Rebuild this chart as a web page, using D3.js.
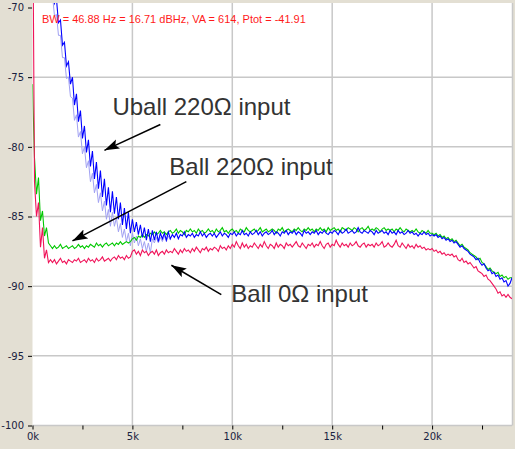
<!DOCTYPE html>
<html>
<head>
<meta charset="utf-8">
<script src="https://cdn.jsdelivr.net/npm/d3@7"></script>
<style>
  html, body { margin: 0; padding: 0; background: #e3dfd3; }
  svg { display: block; }
</style>
</head>
<body>
<svg width="515" height="449"></svg>
<script>
// spectrum samples, one every 0.1 kHz from 0 to 24 kHz (dB)
var freqStepKHz = 0.1;

var ball0 = [
  -60.0, -82.5, -85.0, -84.0, -87.2, -85.8, -88.0, -87.4, -88.3, -88.1,
  -88.3, -88.1, -88.4, -88.2, -88.0, -88.3, -88.2, -88.4, -88.1, -88.2,
  -88.3, -88.1, -88.2, -88.0, -88.3, -88.2, -88.1, -88.3, -88.0, -88.2,
  -88.1, -88.3, -88.0, -88.2, -88.1, -87.9, -88.2, -88.1, -88.0, -88.2,
  -88.0, -87.9, -88.1, -87.8, -88.0, -87.9, -88.1, -87.8, -88.0, -87.9,
  -87.5, -87.4, -87.7, -87.5, -87.8, -87.4, -87.6, -87.5, -87.8, -87.6,
  -87.5, -87.7, -87.4, -87.8, -87.6, -87.5, -87.7, -87.4, -87.6, -87.5,
  -87.6, -87.3, -87.5, -87.7, -87.4, -87.6, -87.3, -87.5, -87.4, -87.6,
  -87.3, -87.5, -87.2, -87.4, -87.6, -87.3, -87.4, -87.2, -87.5, -87.3,
  -87.4, -87.2, -87.3, -87.5, -87.1, -87.3, -87.2, -87.4, -87.1, -87.3,
  -87.0, -87.2, -86.8, -87.1, -87.3, -86.9, -87.2, -87.0, -87.3, -87.1,
  -87.2, -86.9, -87.1, -87.3, -87.0, -87.2, -86.8, -87.1, -87.3, -87.0,
  -87.1, -87.3, -86.9, -87.2, -87.0, -87.1, -87.3, -86.9, -87.1, -87.0,
  -87.2, -87.0, -86.8, -87.1, -87.2, -86.9, -87.1, -87.3, -87.0, -87.1,
  -86.9, -87.2, -87.0, -87.1, -86.8, -87.1, -87.3, -87.0, -86.9, -87.2,
  -87.0, -87.1, -86.7, -87.0, -87.2, -86.9, -87.1, -87.0, -87.2, -86.9,
  -87.1, -87.0, -86.8, -87.1, -87.2, -87.0, -86.9, -87.2, -87.0, -87.1,
  -87.0, -87.2, -86.9, -87.1, -87.0, -86.8, -87.2, -87.1, -86.9, -87.1,
  -87.2, -87.0, -86.7, -87.1, -87.2, -86.9, -87.1, -87.3, -87.0, -87.2,
  -87.1, -87.3, -87.0, -87.2, -87.1, -87.3, -87.2, -87.4, -87.3, -87.4,
  -87.3, -87.5, -87.4, -87.6, -87.5, -87.7, -87.6, -87.8, -87.7, -87.8,
  -87.7, -87.9, -87.8, -88.1, -88.2, -88.0, -88.3, -88.2, -88.4, -88.3,
  -88.5, -88.7, -88.6, -88.9, -89.0, -89.1, -89.3, -89.2, -89.5, -89.6,
  -89.8, -90.0, -90.2, -90.5, -90.4, -90.7, -90.6, -90.8, -90.6, -90.8,
  -90.9
];

var ball220 = [
  -75.5, -80.8, -83.4, -82.2, -85.3, -84.6, -86.4, -85.8, -86.9, -87.1,
  -87.3, -87.1, -87.3, -87.2, -87.0, -87.3, -87.2, -87.1, -87.3, -87.2,
  -87.1, -87.3, -87.2, -87.0, -87.2, -87.1, -87.3, -87.1, -87.2, -87.0,
  -87.1, -87.2, -86.9, -87.1, -87.0, -87.2, -87.0, -86.9, -87.1, -87.0,
  -86.9, -87.1, -86.9, -87.0, -86.8, -87.0, -86.9, -86.8, -86.9, -86.8,
  -86.6, -86.5, -86.7, -86.4, -86.5, -86.3, -86.5, -86.3, -86.4, -86.2,
  -86.3, -86.1, -86.3, -86.2, -86.0, -86.2, -86.1, -86.3, -86.1, -86.0,
  -86.2, -86.1, -85.9, -86.2, -86.0, -86.1, -86.3, -86.0, -86.1, -85.9,
  -86.1, -86.0, -86.2, -85.9, -86.1, -86.0, -86.2, -86.1, -85.9, -86.1,
  -86.0, -86.2, -85.9, -86.1, -86.0, -85.8, -86.1, -86.0, -86.2, -86.0,
  -85.9, -86.1, -86.0, -86.2, -85.9, -86.0, -86.1, -85.8, -86.0, -86.1,
  -86.0, -85.9, -86.1, -86.0, -85.8, -86.1, -86.0, -85.9, -86.1, -86.0,
  -85.9, -86.0, -86.2, -85.9, -86.0, -85.8, -86.1, -86.0, -85.9, -86.0,
  -86.1, -85.9, -86.0, -85.8, -86.0, -86.1, -85.9, -86.0, -85.8, -86.0,
  -85.9, -86.1, -85.9, -86.0, -85.8, -86.0, -85.9, -86.1, -85.8, -86.0,
  -85.9, -85.8, -86.0, -85.9, -86.1, -85.8, -85.9, -86.0, -85.8, -85.9,
  -86.0, -85.8, -85.9, -86.1, -85.9, -85.8, -86.0, -85.9, -85.7, -86.0,
  -85.9, -86.0, -85.8, -85.9, -86.1, -85.9, -85.8, -86.0, -85.9, -86.0,
  -85.9, -86.1, -85.9, -86.0, -85.8, -86.0, -86.1, -85.9, -86.0, -86.1,
  -86.0, -86.1, -85.9, -86.1, -86.2, -86.0, -86.1, -86.2, -86.0, -86.2,
  -86.2, -86.3, -86.2, -86.4, -86.3, -86.5, -86.4, -86.6, -86.5, -86.7,
  -86.6, -86.8, -86.7, -86.9, -87.1, -87.0, -87.2, -87.3, -87.4, -87.6,
  -87.7, -87.8, -87.9, -88.1, -88.0, -88.3, -88.4, -88.6, -88.8, -88.7,
  -88.9, -89.0, -89.1, -89.0, -89.3, -89.2, -89.4, -89.3, -89.5, -89.4,
  -89.4
];

var uball220 = [
  -58.0, -60.0, -61.0, -62.0, -63.0, -64.0, -65.0, -66.0, -67.0, -68.0,
  -68.0, -69.7, -69.4, -71.1, -70.9, -72.7, -72.5, -74.2, -73.9, -75.5,
  -75.0, -77.0, -76.2, -78.2, -77.4, -79.4, -78.5, -80.4, -79.5, -81.4,
  -80.3, -82.3, -81.1, -83.0, -81.7, -83.6, -82.3, -84.2, -82.9, -84.7,
  -83.2, -84.8, -83.6, -85.2, -84.0, -85.6, -84.4, -85.9, -84.7, -86.2,
  -85.2, -86.1, -85.4, -86.3, -85.6, -86.5, -85.8, -86.7, -85.9, -86.8,
  -86.0, -86.7, -86.1, -86.8, -86.2, -86.6, -86.2, -86.7, -86.1, -86.6,
  -86.3, -86.5, -86.2, -86.6, -86.3, -86.4, -86.1, -86.5, -86.3, -86.4,
  -86.2, -86.5, -86.3, -86.4, -86.1, -86.4, -86.2, -86.5, -86.3, -86.2,
  -86.4, -86.2, -86.5, -86.3, -86.1, -86.4, -86.2, -86.3, -86.5, -86.2,
  -86.3, -86.1, -86.4, -86.2, -86.3, -86.0, -86.3, -86.2, -86.4, -86.1,
  -86.3, -86.2, -86.0, -86.3, -86.1, -86.4, -86.2, -86.1, -86.3, -86.2,
  -86.0, -86.3, -86.1, -86.2, -86.4, -86.1, -86.2, -86.0, -86.3, -86.1,
  -86.2, -86.0, -86.3, -86.1, -86.2, -86.4, -86.0, -86.2, -86.1, -86.3,
  -86.1, -86.2, -86.0, -86.3, -86.1, -86.2, -86.0, -86.2, -86.3, -86.1,
  -86.2, -86.0, -86.1, -86.3, -86.0, -86.2, -86.1, -85.9, -86.2, -86.1,
  -86.0, -86.2, -86.1, -85.8, -86.1, -86.2, -86.0, -86.1, -86.2, -86.0,
  -86.1, -86.3, -86.0, -86.2, -86.1, -86.0, -86.2, -86.1, -86.3, -86.0,
  -86.2, -86.1, -86.3, -86.0, -86.2, -86.1, -86.3, -86.2, -86.0, -86.2,
  -86.1, -86.3, -86.2, -86.4, -86.2, -86.3, -86.1, -86.3, -86.2, -86.4,
  -86.3, -86.4, -86.3, -86.5, -86.4, -86.6, -86.5, -86.7, -86.6, -86.8,
  -86.7, -86.9, -86.8, -87.0, -87.2, -87.1, -87.3, -87.4, -87.5, -87.7,
  -87.8, -87.9, -88.1, -88.0, -88.3, -88.5, -88.4, -88.7, -88.9, -88.8,
  -89.1, -89.0, -89.3, -89.2, -89.5, -89.4, -89.7, -89.6, -90.0, -89.8,
  -89.4
];

// lower envelope of the Uball trace, from 1.0 kHz on
var uballMinStartKHz = 1.0;
var uballMin = [
  -69.1, -70.6, -70.5, -72.0, -72.0, -73.6, -73.6, -75.1, -75.0, -76.4,
  -76.5, -78.1, -77.7, -79.3, -78.9, -80.5, -80.0, -81.5, -81.0, -82.5,
  -81.9, -83.3, -82.7, -84.0, -83.3, -84.6, -83.9, -85.2, -84.5, -85.7,
  -84.7, -85.7, -85.1, -86.1, -85.5, -86.5, -85.9, -86.8, -86.2, -87.1,
  -86.2, -86.9, -86.4, -87.1, -86.6, -87.3, -86.8, -87.5, -86.9, -87.6,
  -86.6, -86.9, -86.5, -86.9, -86.5, -86.8, -86.4, -86.8, -86.4, -86.7
];

var xTicks = [0, 5, 10, 15, 20];
var xTickLabels = ["0k", "5k", "10k", "15k", "20k"];
var xMinorTicks = [2.5, 7.5, 12.5, 17.5, 22.5];
var yTicks = [-70, -75, -80, -85, -90, -95, -100];

var headerText = "BW = 46.88 Hz = 16.71 dBHz, VA = 614, Ptot = -41.91";
var notes = [
  { text: "Uball 220\u03a9 input", k: 4.0, v: -77.7, fromK: 6.4, fromV: -78.4, toK: 3.6, toV: -80.25 },
  { text: "Ball 220\u03a9 input", k: 6.85, v: -82.0, fromK: 7.7, fromV: -82.5, toK: 2.0, toV: -86.75 },
  { text: "Ball 0\u03a9 input", k: 9.95, v: -91.15, fromK: 9.45, fromV: -90.6, toK: 6.95, toV: -88.5 }
];

var svg = d3.select('svg');
var plotLeft = 32.5, plotRight = 512, plotTop = 3, plotBottom = 425.5;

var x = d3.scaleLinear().domain([0, 24]).range([plotLeft, plotRight]);
var y = d3.scaleLinear().domain([-100, -70]).range([plotBottom, 7.5]);

svg.append('rect')
   .attr('x', plotLeft).attr('y', plotTop)
   .attr('width', plotRight - plotLeft).attr('height', plotBottom - plotTop)
   .attr('fill', '#ffffff');

svg.append('clipPath').attr('id', 'plotClip')
   .append('rect')
   .attr('x', plotLeft).attr('y', plotTop)
   .attr('width', plotRight - plotLeft).attr('height', plotBottom - plotTop);

// grid
var grid = svg.append('g').attr('stroke', '#c8c8c8').attr('stroke-width', 1.5);
xTicks.slice(1).forEach(function(k) {
  grid.append('line').attr('x1', x(k)).attr('x2', x(k)).attr('y1', plotTop).attr('y2', plotBottom);
});
yTicks.slice(1).forEach(function(v) {
  grid.append('line').attr('x1', plotLeft).attr('x2', plotRight).attr('y1', y(v)).attr('y2', y(v));
});
svg.append('line').attr('x1', plotRight + 0.5).attr('x2', plotRight + 0.5)
   .attr('y1', plotTop).attr('y2', plotBottom).attr('stroke', '#c8c8c8').attr('stroke-width', 1.5);

// axes
var yAxis = svg.append('g').attr('transform', 'translate(' + (plotLeft - 0.5) + ',0)')
   .call(d3.axisLeft(y).tickValues(yTicks).tickSize(4).tickPadding(4)
           .tickFormat(function(d) { return String(d); }));
var xAxis = svg.append('g').attr('transform', 'translate(0,' + plotBottom + ')')
   .call(d3.axisBottom(x).tickValues(xTicks).tickSize(4).tickPadding(3)
           .tickFormat(function(d, i) { return xTickLabels[i]; }));
svg.append('g').attr('transform', 'translate(0,' + plotBottom + ')')
   .call(d3.axisBottom(x).tickValues(xMinorTicks).tickSize(4).tickFormat(''))
   .select('.domain').remove();
[yAxis, xAxis].forEach(function(a) {
  a.select('.domain').remove();
  a.selectAll('text').attr('font-family', 'DejaVu Sans').attr('font-size', '10px').attr('fill', '#1a2240');
});
svg.selectAll('.tick line').attr('stroke', '#000');

// traces
var plot = svg.append('g').attr('clip-path', 'url(#plotClip)');
function trace(values, start, color, width) {
  var line = d3.line()
    .x(function(d, i) { return x(start + i * freqStepKHz); })
    .y(function(d) { return y(d); });
  plot.append('path').datum(values)
      .attr('d', line)
      .attr('fill', 'none')
      .attr('stroke', color)
      .attr('stroke-width', width);
}
trace(uballMin, uballMinStartKHz, '#a0a0f2', 1);
trace(ball220, 0, '#00c800', 1.1);
trace(uball220, 0, '#0000ff', 1.1);
trace(ball0, 0, '#f0145a', 1.1);

svg.append('text')
   .attr('x', x(0.47)).attr('y', 23)
   .attr('font-family', 'Liberation Sans, Arial, sans-serif')
   .attr('font-size', '11px')
   .attr('fill', '#ff1a1a')
   .text(headerText);

// annotations
svg.append('defs').append('marker')
   .attr('id', 'head')
   .attr('markerUnits', 'userSpaceOnUse')
   .attr('markerWidth', 16).attr('markerHeight', 12)
   .attr('refX', 15).attr('refY', 5)
   .attr('orient', 'auto')
   .append('path').attr('d', 'M0,0 L15,5 L0,10 L3,5 Z').attr('fill', '#000');

notes.forEach(function(n) {
  svg.append('line')
     .attr('x1', x(n.fromK)).attr('y1', y(n.fromV))
     .attr('x2', x(n.toK)).attr('y2', y(n.toV))
     .attr('stroke', '#000').attr('stroke-width', 1.5)
     .attr('marker-end', 'url(#head)');
  svg.append('text')
     .attr('x', x(n.k)).attr('y', y(n.v))
     .attr('font-family', 'Liberation Sans, Arial, sans-serif')
     .attr('font-size', '24px')
     .attr('fill', '#333333')
     .text(n.text);
});
</script>
</body>
</html>
